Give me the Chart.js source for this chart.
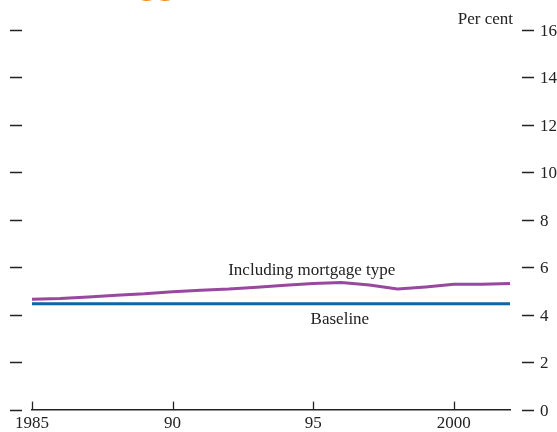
<!DOCTYPE html>
<html lang="en">
<head>
    <meta charset="UTF-8">
    <title>Chart</title>
    <script src="https://cdn.jsdelivr.net/npm/chart.js"></script>
    <style>
        html, body { margin: 0; padding: 0; background: #fff; }
    </style>
</head>
<body>
    <canvas id="chart" width="557" height="432"></canvas>

    <script>
        // Data
        const years = [1985, 1986, 1987, 1988, 1989, 1990, 1991, 1992, 1993, 1994, 1995, 1996, 1997, 1998, 1999, 2000, 2001, 2002];
        const withMortgageType = [4.65, 4.68, 4.75, 4.82, 4.88, 4.97, 5.03, 5.08, 5.16, 5.24, 5.32, 5.36, 5.25, 5.08, 5.17, 5.28, 5.28, 5.32];
        const baseline = [4.46, 4.46, 4.46, 4.46, 4.46, 4.46, 4.46, 4.46, 4.46, 4.46, 4.46, 4.46, 4.46, 4.46, 4.46, 4.46, 4.46, 4.46];
        const xTicks = [1985, 1990, 1995, 2000];
        const yTicks = [0, 2, 4, 6, 8, 10, 12, 14, 16];

        const serif = "'Liberation Serif', 'DejaVu Serif', serif";
        const ink = "#222";

        // dashes on both sides, y labels, upward ticks on the x axis and the text labels
        const decorations = {
            id: "decorations",
            afterDraw(chart) {
                const ctx = chart.ctx;
                const x = chart.scales.x, y = chart.scales.y;
                const area = chart.chartArea;
                ctx.save();
                ctx.strokeStyle = ink;
                ctx.fillStyle = ink;
                ctx.lineWidth = 1.3;
                ctx.font = "17px " + serif;
                ctx.textBaseline = "middle";
                ctx.textAlign = "left";
                yTicks.forEach(v => {
                    const py = Math.round(y.getPixelForValue(v)) + 0.5;
                    ctx.beginPath();
                    ctx.moveTo(10, py); ctx.lineTo(22, py);
                    ctx.moveTo(area.right + 12, py); ctx.lineTo(area.right + 24, py);
                    ctx.stroke();
                    ctx.fillText(String(v), area.right + 30, py + 1);
                });
                xTicks.forEach(v => {
                    const px = Math.round(x.getPixelForValue(v)) + 0.5;
                    ctx.beginPath();
                    ctx.moveTo(px, area.bottom); ctx.lineTo(px, area.bottom - 8);
                    ctx.stroke();
                });

                ctx.textAlign = "center";
                ctx.fillText("Including mortgage type", x.getPixelForValue(1994.95), y.getPixelForValue(5.85));
                ctx.fillText("Baseline", x.getPixelForValue(1995.95), y.getPixelForValue(3.8));
                ctx.textAlign = "right";
                ctx.fillText("Per cent", area.right + 3, 20);

                // bottom of the cut-off title
                ctx.fillStyle = "#ef8f1c";
                ctx.font = "bold 26px 'DejaVu Sans', sans-serif";
                ctx.textAlign = "left";
                ctx.textBaseline = "alphabetic";
                ctx.fillText("gg", 139, -5);
                ctx.restore();
            }
        };

        new Chart(document.getElementById("chart"), {
            type: "line",
            data: {
                labels: years,
                datasets: [
                    {
                        label: "Including mortgage type",
                        data: years.map((yr, i) => ({ x: yr, y: withMortgageType[i] })),
                        borderColor: "#99479f",
                        borderWidth: 3,
                        pointRadius: 0,
                        tension: 0
                    },
                    {
                        label: "Baseline",
                        data: years.map((yr, i) => ({ x: yr, y: baseline[i] })),
                        borderColor: "#0f65a6",
                        borderWidth: 3,
                        pointRadius: 0,
                        tension: 0
                    }
                ]
            },
            options: {
                responsive: false,
                animation: false,
                layout: { padding: { top: 30, left: 32, right: 47, bottom: -6 } },
                plugins: {
                    legend: { display: false },
                    tooltip: { enabled: false }
                },
                scales: {
                    x: {
                        type: "linear",
                        min: 1985,
                        max: 2002,
                        afterBuildTicks: s => { s.ticks = xTicks.map(v => ({ value: v })); },
                        grid: { display: false, drawTicks: false },
                        border: { display: true, color: ink, width: 1.5 },
                        ticks: {
                            color: ink,
                            font: { family: serif, size: 17 },
                            padding: 4,
                            maxRotation: 0,
                            autoSkip: false,
                            callback: v => (v === 1985 || v === 2000) ? String(v) : String(v).slice(2)
                        }
                    },
                    y: {
                        display: false,
                        min: 0,
                        max: 16
                    }
                }
            },
            plugins: [decorations]
        });
    </script>
</body>
</html>
